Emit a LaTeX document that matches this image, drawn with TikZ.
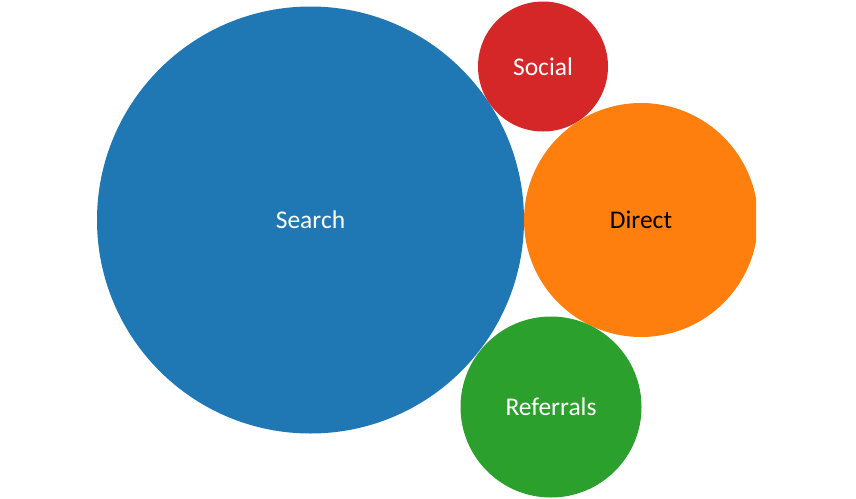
\documentclass[tikz,border=0pt]{standalone}
\usepackage{fontspec}
\setmainfont{Carlito}
\usepackage{tikz}
\usetikzlibrary{positioning}
\definecolor{searchblue}{HTML}{1F77B4}
\definecolor{directorange}{HTML}{FF7F0E}
\definecolor{referralgreen}{HTML}{2CA02C}
\definecolor{socialred}{HTML}{D62728}
\begin{document}
\begin{tikzpicture}[x=1pt,y=-1pt]%
                    \useasboundingbox (0,0) rectangle (856,498); %%
                    \clip (0,0) rectangle (756,498); %%
                    \begin{scope}
                        \tikzstyle{every node}=[circle,inner sep=0pt,text=white,font=\fontsize{25.5}{30}\selectfont];%%
                        \node[fill=searchblue,minimum size=427pt] (search) at (310.5,220)  {Search}; %%
                        \node[fill=socialred,minimum size=130pt] (social) at (543,66.5)  {Social}; %%
                        \node[fill=directorange,minimum size=234pt,text=black] (direct) at (641,220)  {Direct}; %%
                        \node[fill=referralgreen,minimum size=181pt] (referrals) at (551,407)  {Referrals}; %%
                    \end{scope}
                    \end{tikzpicture}
\end{document}
